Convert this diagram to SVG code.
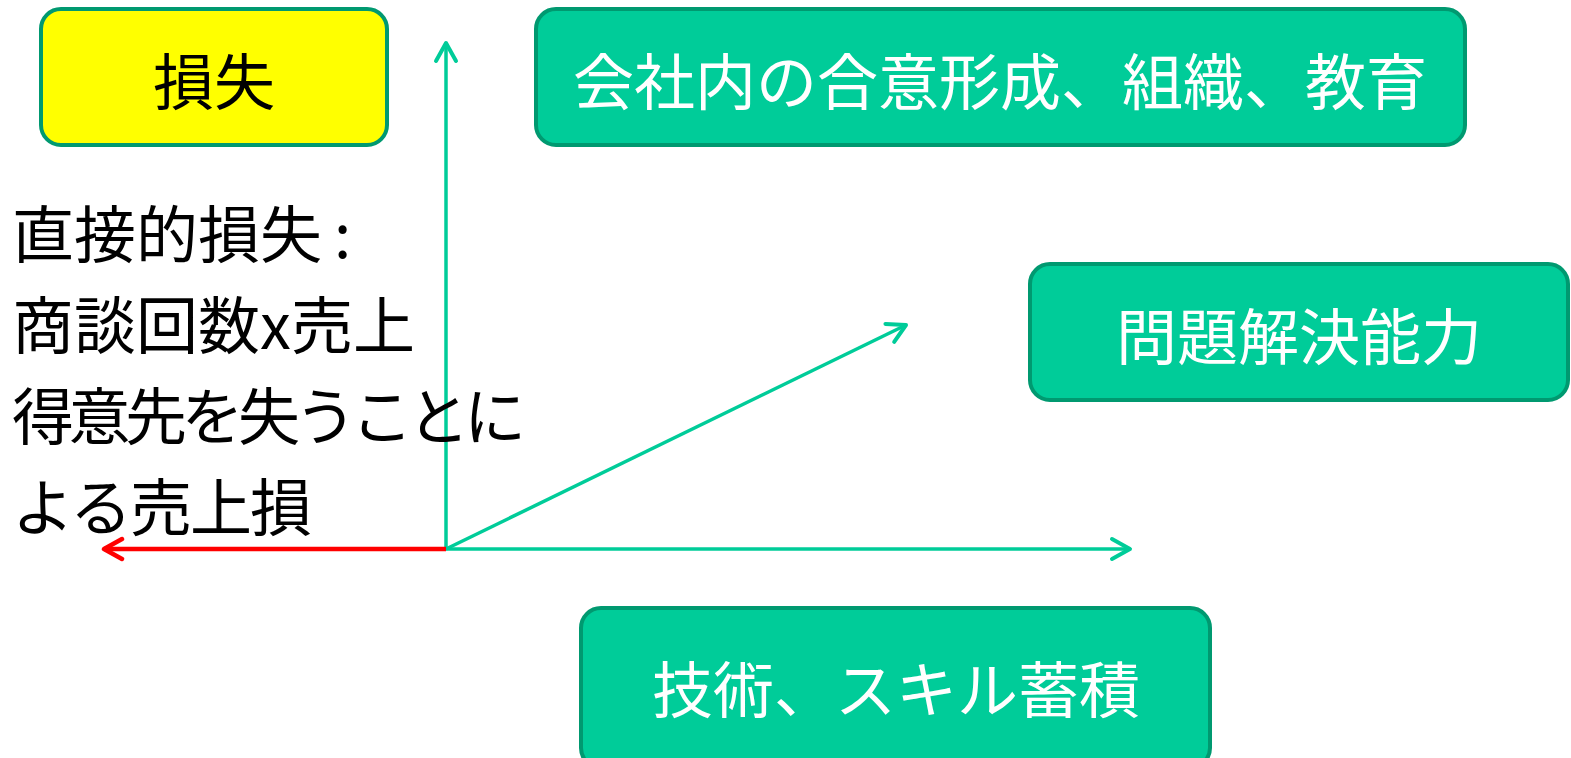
<svg xmlns="http://www.w3.org/2000/svg" width="1571" height="758" viewBox="0 0 1571 758">
<style>
.box{fill:#00CC99;stroke:#009970;stroke-width:4}
.ybox{fill:#FFFF00;stroke:#009970;stroke-width:4}
.t{font-family:"Noto Sans CJK JP","Liberation Sans",sans-serif;font-size:61px;text-anchor:middle}
.w{fill:#FFFFFF}
.k{fill:#000000}
.lt{font-family:"Noto Sans CJK JP","Liberation Sans",sans-serif;font-size:62px;fill:#000}
.g{stroke:#00CC99;stroke-width:3.5;fill:none}
.r{stroke:#FF0000;stroke-width:4.5;fill:none}
</style>
<defs>
<marker id="ag" viewBox="0 0 24 26" refX="21" refY="13" markerWidth="24" markerHeight="26" markerUnits="userSpaceOnUse" orient="auto"><path d="M3,3 L21,13 L3,23" fill="none" stroke="#00CC99" stroke-width="4" stroke-linecap="round" stroke-linejoin="round"/></marker>
<marker id="ar" viewBox="0 0 24 26" refX="21" refY="13" markerWidth="24" markerHeight="26" markerUnits="userSpaceOnUse" orient="auto"><path d="M3,3 L21,13 L3,23" fill="none" stroke="#FF0000" stroke-width="4.5" stroke-linecap="round" stroke-linejoin="round"/></marker>
</defs>
<g id="connectors">
<line class="g" x1="446" y1="549" x2="446" y2="43" marker-end="url(#ag)"/>
<line class="g" x1="446" y1="549" x2="1130" y2="549" marker-end="url(#ag)"/>
<line class="g" x1="446" y1="549" x2="906" y2="325" marker-end="url(#ag)"/>
<line class="r" x1="446" y1="549" x2="104" y2="549" marker-end="url(#ar)"/>
</g>
<g id="loss">
<rect class="ybox" x="41" y="9" width="346" height="136" rx="20"/>
<text class="t k" x="214" y="105">損失</text>
</g>
<g id="consensus">
<rect class="box" x="536" y="9" width="929" height="136" rx="20"/>
<text class="t w" x="1000" y="105">会社内の合意形成、組織、教育</text>
</g>
<g id="problem">
<rect class="box" x="1030" y="264" width="538" height="136" rx="20"/>
<text class="t w" x="1299" y="360">問題解決能力</text>
</g>
<g id="skill">
<rect class="box" x="581" y="608" width="629" height="160" rx="20"/>
<text class="t w" x="896" y="713">技術、スキル蓄積</text>
</g>
<g id="loss-text">
<text class="lt" x="12" y="258">直接的損失<tspan dx="12">:</tspan></text>
<text class="lt" x="12" y="349">商談回数x売上</text>
<text class="lt" x="12" y="440" textLength="514" lengthAdjust="spacing">得意先を失うことに</text>
<text class="lt" x="12" y="531" textLength="300" lengthAdjust="spacing">よる売上損</text>
</g>
</svg>
